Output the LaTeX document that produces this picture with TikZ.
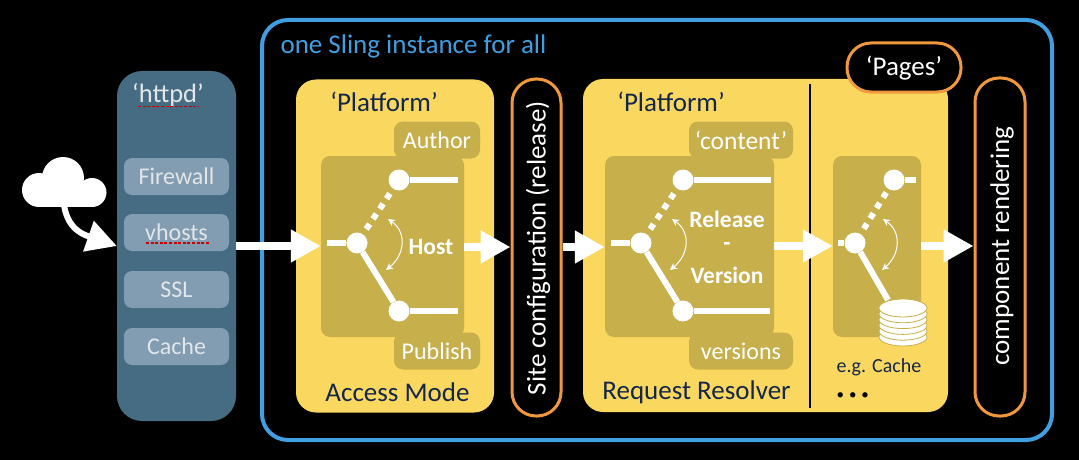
\documentclass[tikz,border=0pt]{standalone}
\usepackage{fontspec}
\setmainfont{Carlito}
\usetikzlibrary{positioning, arrows.meta}
\definecolor{slingblue}{HTML}{3F9FE0}
\definecolor{httpdblue}{HTML}{456C82}
\definecolor{itemblue}{HTML}{829CB1}
\definecolor{itemtext}{HTML}{E2E6E8}
\definecolor{platyellow}{HTML}{FAD85F}
\definecolor{darkgold}{HTML}{C7AF4C}
\definecolor{pillorange}{HTML}{F0983E}
\definecolor{navy}{HTML}{14264A}
\newcommand{\fsz}[1]{\fontsize{#1}{#1}\selectfont}
\newcommand{\diskstack}[2]{%
	\foreach \k in {0,...,5}
		\draw[draw=darkgold, fill=white, line width=.8pt] (#1, #2-\k*5.8) ellipse (24 and 9);
}

\begin{document}
\begin{tikzpicture}[
		x=1pt, y=-1pt,
		box/.style={rectangle, inner sep=0pt, align=center},
		item/.style={box, fill=itemblue, rounded corners=8pt, minimum width=105pt, minimum height=37pt, text=itemtext, font=\fsz{24}},
		platform/.style={box, fill=platyellow, rounded corners=20pt, minimum height=333pt},
		inner/.style={box, fill=darkgold, rounded corners=9pt, minimum height=181pt},
		tag/.style={box, fill=darkgold, rounded corners=9pt, minimum height=37pt, text=white, font=\fsz{24}},
		pill/.style={box, draw=pillorange, fill=black, line width=3pt, rounded corners=24pt},
		knob/.style={circle, fill=white, inner sep=0pt, minimum size=21pt},
		wire/.style={white, line width=6pt},
		dotwire/.style={wire, dash pattern=on 6pt off 6.2pt, shorten <=6pt},
		bigarrow/.style={white, line width=8pt, -{Triangle[length=30pt, width=31pt]}},
		swing/.style={white, line width=1pt, {Stealth[length=7pt, width=7pt]}-{Stealth[length=7pt, width=7pt]}},
		squig/.style={red!80!black, line width=1.4pt, dash pattern=on 3pt off 1.6pt},
	]
	\useasboundingbox[fill=black] (0,0) rectangle (1079,460);

	\node[box, draw=slingblue, line width=4pt, rounded corners=26pt, minimum width=790pt, minimum height=420pt] (sling) at (657,230) {};
	\node[text=slingblue, font=\fsz{27}, anchor=west] (slingtitle) at (277,46) {one Sling instance for all};

	% cloud and httpd
	\fill[white] (39,190) circle (17);
	\fill[white] (63,178) circle (21);
	\fill[white] (92,192.5) circle (14.5);
	\fill[white] (39,185) rectangle (92,207);
	\coordinate (cloud) at (64,205);
	\coordinate (flow) at (0,246);
	\node[box, fill=httpdblue, rounded corners=25pt, minimum width=119pt, minimum height=350pt] (httpd) at (176.5,246) {};
	\node[text=itemtext, font=\fsz{26.5}] (httpdtitle) at (168,95) {‘httpd’};
	\foreach \n/\y/\t in {firewall/176.5/Firewall, vhosts/232.5/vhosts, ssl/289.5/SSL, cachebox/346.5/Cache}
		\node[item] (\n) at (176.5,\y) {\t};
	\draw[squig] (138,106.5) -- (199,106.5);
	\draw[squig] (146,243) -- (209,243);
	\draw[bigarrow, line width=6pt] (cloud) .. controls (68,232) and (88,236) .. (httpd.west |- flow);

	% access mode
	\node[platform, minimum width=198pt] (plat1) at (395,246) {};
	\node[text=navy, font=\fsz{27}] (plat1title) at (384,102) {‘Platform’};
	\node[text=navy, font=\fsz{27}] (access) at (397.5,392) {Access Mode};
	\node[inner, minimum width=143pt] (host) at (392.5,246.5) {};
	\node[tag, minimum width=86pt] (author) at (437,140) {Author};
	\node[tag, minimum width=86pt] (publish) at (437,351) {Publish};
	\node[knob] (a0) at (357,243) {};
	\node[knob] (a1) at (399,180) {};
	\node[knob] (a2) at (399,311) {};
	\coordinate (a0in) at (327,243);
	\coordinate (a1out) at (458,180);
	\coordinate (a2out) at (458,311);
	\draw[wire] (a0in) -- (a0);
	\draw[dotwire] (a0) -- (a1);
	\draw[wire] (a0) -- (a2);
	\draw[wire] (a1) -- (a1out);
	\draw[wire] (a2) -- (a2out);
	\coordinate (a3) at (388,219);
	\coordinate (a4) at (386,270);
	\draw[swing] (a3) .. controls (407,232) and (405,255) .. (a4);
	\node[text=white, font=\bfseries\fsz{23.5}] (hostlabel) at (431,247) {Host};

	% site configuration
	\node[pill, minimum width=49pt, minimum height=337pt] (site) at (536.5,247.5) {};
	\node[text=white, font=\fsz{27}, rotate=90] (sitelabel) at (538,248) {Site configuration (release)};

	% request resolver
	\node[platform, minimum width=365pt] (plat2) at (765.5,245.5) {};
	\node[text=navy, font=\fsz{27}] (plat2title) at (671,102) {‘Platform’};
	\node[text=navy, font=\fsz{27}] (resolver) at (696.5,392) {Request Resolver};
	\coordinate (divtop) at (810,84);
	\coordinate (divbot) at (810,408);
	\draw[black, line width=1.2pt] (divtop) -- (divbot);
	\node[pill, minimum width=114pt, minimum height=49pt] (pages) at (904,67.5) {};
	\node[text=white, font=\fsz{27}] (pageslabel) at (904,68) {‘Pages’};
	\node[inner, minimum width=169pt] (release) at (689.5,246.5) {};
	\node[tag, minimum width=104pt, font=\fsz{25.5}] (content) at (741,140) {‘content’};
	\node[tag, minimum width=104pt] (versions) at (741,351) {versions};
	\node[knob] (b0) at (641,243) {};
	\node[knob] (b1) at (683,180) {};
	\node[knob] (b2) at (683,311) {};
	\coordinate (b0in) at (611,243);
	\coordinate (b1out) at (771,180);
	\coordinate (b2out) at (770,311);
	\draw[wire] (b0in) -- (b0);
	\draw[dotwire] (b0) -- (b1);
	\draw[wire] (b0) -- (b2);
	\draw[wire] (b1) -- (b1out);
	\draw[wire] (b2) -- (b2out);
	\coordinate (b3) at (672,219);
	\coordinate (b4) at (670,270);
	\draw[swing] (b3) .. controls (691,232) and (689,255) .. (b4);
	\node[text=white, font=\bfseries\fsz{23.5}] (rel1) at (727,219) {Release};
	\node[text=white, font=\bfseries\fsz{23.5}] (rel2) at (727,247) {-};
	\node[text=white, font=\bfseries\fsz{23.5}] (rel3) at (727,275) {Version};

	% pages
	\node[inner, minimum width=88pt] (cachesw) at (877,246.5) {};
	\node[knob] (c0) at (855,243) {};
	\node[knob] (c1) at (894,180) {};
	\coordinate (c0in) at (838,243);
	\coordinate (c1out) at (916,180);
	\coordinate (cache) at (888,300);
	\draw[wire] (c0in) -- (c0);
	\draw[dotwire] (c0) -- (c1);
	\draw[wire] (c0) -- (cache);
	\draw[wire] (c1) -- (c1out);
	\coordinate (c3) at (883,219);
	\coordinate (c4) at (882,270);
	\draw[swing] (c3) .. controls (902,232) and (900,255) .. (c4);
	\diskstack{903}{337}
	\node[text=navy, font=\fsz{20}, anchor=west] (eg) at (833,367) {e.g. Cache};
	\node[text=black!85!navy, font=\fsz{15}, anchor=west] (more) at (833,396) {\textbullet\hspace{5pt}\textbullet\hspace{5pt}\textbullet};

	% component rendering
	\node[pill, minimum width=50pt, minimum height=338pt] (render) at (1000,247) {};
	\node[text=white, font=\fsz{27}, rotate=90] (renderlabel) at (1002,246) {component rendering};

	% flow arrows
	\draw[bigarrow] (httpd.east |- flow) -- (host.west |- flow);
	\draw[bigarrow] (host.east |- hostlabel) -- (site.west |- hostlabel);
	\draw[bigarrow] (site.east |- hostlabel) -- (release.west |- hostlabel);
	\draw[bigarrow] (release.east |- flow) -- (cachesw.west |- flow);
	\draw[bigarrow] (cachesw.east |- flow) -- (render.west |- flow);
\end{tikzpicture}
\end{document}
